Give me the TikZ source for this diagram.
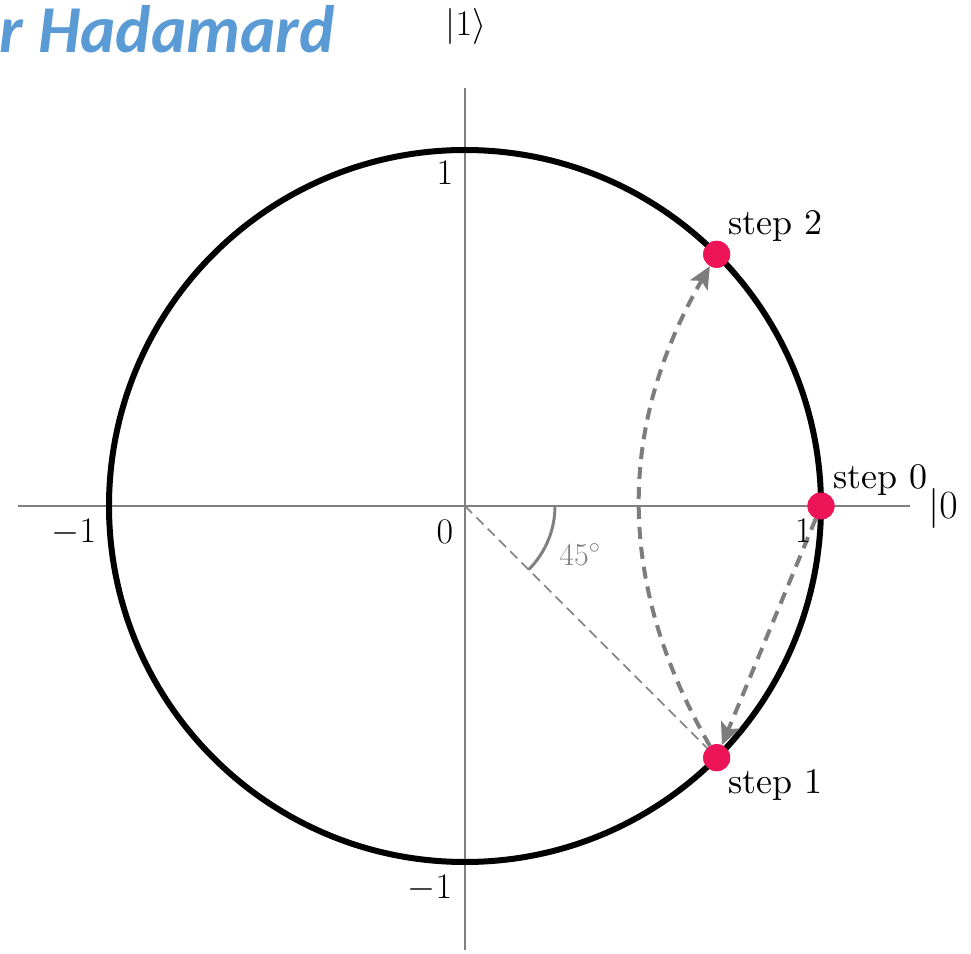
\RequirePackage{fix-cm}
\documentclass[tikz,border=0pt]{standalone}
\usepackage{fontspec}
\setmainfont{lmroman10-regular.otf}
\newfontfamily\titlefont{Carlito}
\usetikzlibrary{arrows.meta}
\definecolor{axisgray}{RGB}{128,128,128}
\definecolor{arrgray}{RGB}{125,125,125}
\definecolor{dotred}{RGB}{238,20,88}
\definecolor{titleblue}{RGB}{91,155,213}
\begin{document}
\begin{tikzpicture}[x=1pt,y=1pt,
  axisline/.style={draw=axisgray, line width=2pt},
  dot/.style={circle, fill=dotred, minimum size=27pt, inner sep=0pt},
  lbl/.style={font=\fontsize{36}{40}\selectfont, inner sep=0pt},
  arr/.style={draw=arrgray, line width=4pt, dash pattern=on 12pt off 8pt, -{Stealth[length=22pt,width=20pt,inset=5pt]}},
  guide/.style={draw=axisgray, line width=1.5pt, dash pattern=on 10pt off 6pt}]
\useasboundingbox (-465,-447) rectangle (506,506);
% axes
\coordinate (o) at (0,0);
\coordinate (xl) at (-447,0);
\coordinate (xr) at (445,0);
\coordinate (yt) at (0,418);
\coordinate (yb) at (0,-444);
\draw[axisline] (xl) -- (xr);
\draw[axisline] (yb) -- (yt);
% dots (placed first for names)
\node[dot] (s0) at (356,0) {};
\node[dot] (s1) at (251.7,-251.7) {};
\node[dot] (s2) at (251.7,251.7) {};
% guides
\draw[guide] (o) -- (s0.center);
\draw[guide] (o) -- (s1.center);
\draw[draw=axisgray, line width=3pt] (90,0) arc[start angle=0, end angle=-45, radius=90];
% unit circle
\draw[line width=6pt] (o) circle[radius=356];
% arrows
\draw[arr] (s0) -- (s1);
\draw[arr] (s1) to[bend left=30] (s2);
% redraw dots on top
\node[dot] at (s0) {};
\node[dot] at (s1) {};
\node[dot] at (s2) {};
% labels
\node[anchor=base east, inner sep=0pt, text=titleblue, font=\titlefont\bfseries\itshape\fontsize{67}{72}\selectfont] (title) at (-130,453) {r Hadamard};
\node[lbl, anchor=base] (ket1) at (1,470) {$|1\rangle$};
\node[anchor=base west, inner sep=0pt, font=\fontsize{40}{44}\selectfont] (ket0) at (463,-12) {$|0$};
\node[lbl, anchor=base] (t1y) at (-20,321) {$1$};
\node[lbl, anchor=base] (t0) at (-20,-37) {$0$};
\node[lbl, anchor=base] (tmx) at (-391,-36) {$-1$};
\node[lbl, anchor=base] (t1x) at (338,-36) {$1$};
\node[lbl, anchor=base] (tmy) at (-35,-392) {$-1$};
\node[anchor=base, inner sep=0pt, text=axisgray, font=\fontsize{32}{36}\selectfont] (ang) at (115,-59) {$45^\circ$};
\node[lbl, anchor=base west] (l0) at (368,18) {step 0};
\node[lbl, anchor=base west] (l2) at (263,271) {step 2};
\node[lbl, anchor=base west] (l1) at (263,-287) {step 1};
\end{tikzpicture}
\end{document}
